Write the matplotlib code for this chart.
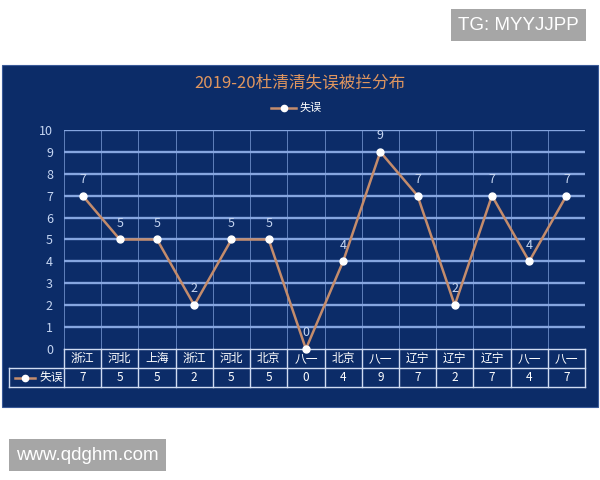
import matplotlib
matplotlib.use("Agg")
import matplotlib.pyplot as plt
from matplotlib.patches import Rectangle
from matplotlib.lines import Line2D

plt.rcParams['font.family'] = ['Noto Sans CJK SC', 'DejaVu Sans']

categories = ["浙江", "河北", "上海", "浙江", "河北", "北京", "八一", "北京", "八一", "辽宁", "辽宁", "辽宁", "八一", "八一"]
values = [7, 5, 5, 2, 5, 5, 0, 4, 9, 7, 2, 7, 4, 7]
series_name = "失误"
title = "2019-20杜清清失误被拦分布"
yticks = list(range(0, 11))

W, H = 600, 480
NAVY = "#0c2c68"
GRID = "#86a6e0"
LINE = "#c48c6c"
TXT = "#c6d6f2"

fig = plt.figure(figsize=(6, 4.8), dpi=100)
fig.patch.set_facecolor("white")

def fx(px):
    return px / W

def fy(py):
    return 1 - py / H

# navy panel
panel = Rectangle((fx(2), fy(407)), fx(596), 342 / H, transform=fig.transFigure,
                  facecolor=NAVY, edgecolor="#3a5a98", lw=0.8, zorder=-10)
fig.add_artist(panel)

left, right, top, bottom = 64, 585, 130, 349
ax = fig.add_axes([fx(left), fy(bottom), (right - left) / W, (bottom - top) / H])
ax.set_zorder(5)
ax.patch.set_alpha(0)
n = len(categories)
ax.set_xlim(-0.5, n - 0.5)
ax.set_ylim(0, 10)
for s in ax.spines.values():
    s.set_visible(False)
ax.set_xticks([])
ax.set_yticks(yticks)
ax.set_yticklabels([str(t) for t in yticks], color=TXT, fontsize=9)
ax.tick_params(axis='y', length=0, pad=8)

for t in yticks[1:]:
    ax.axhline(t, color=GRID, lw=1.7, zorder=1)
for i in range(n + 1):
    ax.axvline(i - 0.5, color=GRID, lw=0.6, alpha=0.8, zorder=1)

x = list(range(n))
ax.plot(x, values, color=LINE, lw=1.8, zorder=3, clip_on=False)
ax.plot(x, values, 'o', color="white", ms=5, zorder=4, clip_on=False)
for xi, v in zip(x, values):
    ax.annotate(str(v), (xi, v), xytext=(0, 7), textcoords="offset points",
                ha="center", va="bottom", color=TXT, fontsize=9, zorder=5)

# data table below the axes
ph = bottom - top
r1 = -19 / ph
r2 = -38 / ph
hdr = (9 - left) / (right - left)
tr = ax.get_xaxis_transform()
tcol = "#d0dcf2"
ax.plot([-0.5, n - 0.5], [0, 0], transform=tr, color=tcol, lw=1.0, clip_on=False)
ax.plot([hdr, 1], [r1, r1], transform=ax.transAxes, color=tcol, lw=1.0, clip_on=False)
ax.plot([hdr, 1], [r2, r2], transform=ax.transAxes, color=tcol, lw=1.0, clip_on=False)
ax.plot([hdr, hdr], [r1, r2], transform=ax.transAxes, color=tcol, lw=1.0, clip_on=False)
for i in range(n + 1):
    ax.plot([i - 0.5, i - 0.5], [0, r2], transform=tr, color=tcol, lw=1.0, clip_on=False)
for xi, c, v in zip(x, categories, values):
    ax.text(xi, r1 / 2, c, transform=tr, ha="center", va="center", color="white", fontsize=8.5)
    ax.text(xi, (r1 + r2) / 2, str(v), transform=tr, ha="center", va="center", color="white", fontsize=8.5)
# table legend key
ym = (r1 + r2) / 2
ax.add_line(Line2D([hdr + 0.012, hdr + 0.05], [ym, ym], transform=ax.transAxes, color=LINE, lw=1.8, clip_on=False))
ax.add_line(Line2D([hdr + 0.031], [ym], transform=ax.transAxes, marker='o', color="white", ms=4.5, clip_on=False))
ax.text(hdr + 0.058, ym, series_name, transform=ax.transAxes, ha="left", va="center", color="white", fontsize=8.5)

# title and legend
fig.text(fx(300), fy(83), title, ha="center", va="center", color="#e0965f", fontsize=12)
fig.add_artist(Line2D([fx(271), fx(296)], [fy(108), fy(108)], transform=fig.transFigure, color=LINE, lw=1.8))
fig.add_artist(Line2D([fx(284)], [fy(108)], transform=fig.transFigure, marker='o', color="white", ms=4.5))
fig.text(fx(300), fy(108), series_name, ha="left", va="center", color="white", fontsize=8)

# watermarks
fig.text(fx(458), fy(25), "TG: MYYJJPP", ha="left", va="center", color="white", fontsize=13.5,
         family=["Liberation Sans", "DejaVu Sans"],
         bbox=dict(boxstyle="square,pad=0.4", facecolor="#a6a6a6", edgecolor="none"))
fig.text(fx(16), fy(455), "www.qdghm.com", ha="left", va="center", color="white", fontsize=13.5,
         family=["Liberation Sans", "DejaVu Sans"],
         bbox=dict(boxstyle="square,pad=0.4", facecolor="#a6a6a6", edgecolor="none"))

fig.savefig("out.png", dpi=100, facecolor="white")
